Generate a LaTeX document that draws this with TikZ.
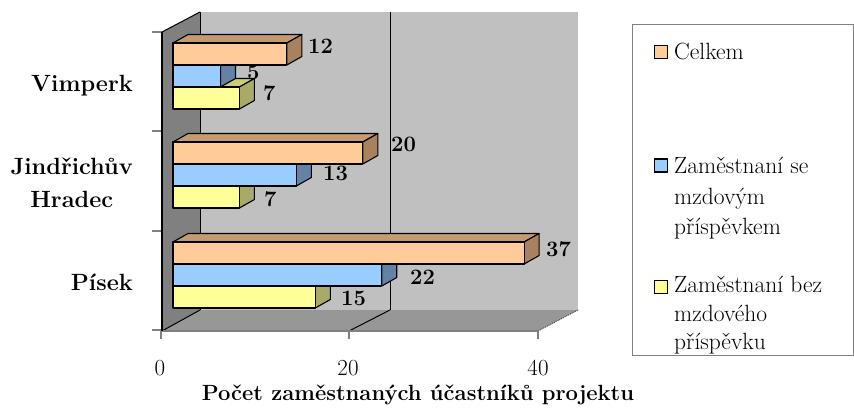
\documentclass[tikz,border=0pt]{standalone}
\usepackage{fontspec}
\definecolor{ofront}{HTML}{FFCC99}
\definecolor{otop}{HTML}{C49A70}
\definecolor{oside}{HTML}{A8825F}
\definecolor{bfront}{HTML}{99CCFF}
\definecolor{btop}{HTML}{7A9CC0}
\definecolor{bside}{HTML}{6482A5}
\definecolor{yfront}{HTML}{FFFF99}
\definecolor{ytop}{HTML}{CCCC77}
\definecolor{yside}{HTML}{A9A96A}
\definecolor{backwall}{HTML}{C0C0C0}
\definecolor{sidewall}{HTML}{808080}
\definecolor{floorc}{HTML}{979797}
\newcommand{\mybar}[3]{% #1 y top, #2 value, #3 colour prefix
  \pgfmathsetmacro\xe{173+9.49*#2}
  \draw[barline,fill=#3top] (173,#1) -- (\xe,#1) -- ++(15,-8.5) -- (188,{#1-8.5}) -- cycle;
  \draw[barline,fill=#3side] (\xe,#1) -- ++(15,-8.5) -- ++(0,22) -- (\xe,{#1+22}) -- cycle;
  \draw[barline,fill=#3front] (173,#1) rectangle (\xe,{#1+22});
}
\tikzset{
  barline/.style={draw=black,line width=1.1pt,line join=round},
  vallabel/.style={font=\fontsize{22}{26}\selectfont\bfseries,inner sep=0pt,anchor=west},
  catlabel/.style={font=\fontsize{23.5}{33}\selectfont\bfseries,inner sep=0pt,align=center},
  ticklabel/.style={font=\fontsize{23}{27}\selectfont,inner sep=0pt,anchor=base},
  legtext/.style={font=\fontsize{23.5}{30.5}\selectfont,inner sep=0pt,align=left},
  legsq/.style={draw=black,line width=1.1pt,minimum size=13pt,inner sep=0pt},
  axisline/.style={draw=sidewall,line width=1.2pt},
}
\begin{document}
\begin{tikzpicture}[x=1pt,y=-1pt]
\useasboundingbox (0,0) rectangle (854,409);
% walls and floor
\fill[backwall] (200,12) rectangle (578,310);
\fill[floorc] (162,331) -- (538,331) -- (578,310) -- (200,310) -- cycle;
\fill[sidewall] (162,32) -- (200,12) -- (200,310) -- (162,331) -- cycle;
\draw[black,line width=1pt] (200,12) -- (200,310);
\draw[black,line width=1pt] (390,12) -- (390,310);
\draw[black,line width=1pt] (349,331) -- (390,310);
\draw[black,line width=1pt] (162,331) -- (200,310);
\draw[black,line width=1pt] (162,32) -- (200,12);
\draw[black!70,densely dotted,line width=1pt] (538,331) -- (578,310);
% axes
\draw[axisline] (162,331) -- (538,331);
\foreach \xx in {161,349,538} \draw[axisline] (\xx,331) -- (\xx,339);
\foreach \yy in {32,131,231,330} \draw[axisline] (152,\yy) -- (162,\yy);
\draw[black,line width=1.8pt] (162,32) -- (162,331);
% bars: Písek
\mybar{286}{15}{y}
\mybar{264}{22}{b}
\mybar{242}{37}{o}
% Jindřichův Hradec
\mybar{186}{7}{y}
\mybar{164}{13}{b}
\mybar{142}{20}{o}
% Vimperk
\mybar{87}{7}{y}
\mybar{65}{5}{b}
\mybar{43}{12}{o}
% value labels
\node[vallabel] (v12) at (308,46) {12};
\node[vallabel] (v5) at (247,72) {5};
\node[vallabel] (v7a) at (263,93) {7};
\node[vallabel] (j20) at (391,144) {20};
\node[vallabel] (j13) at (323,173) {13};
\node[vallabel] (j7) at (264,199) {7};
\node[vallabel] (p37) at (546,249) {37};
\node[vallabel] (p22) at (410,277) {22};
\node[vallabel] (p15) at (341,298) {15};
% category labels
\node[catlabel,anchor=base east] (cv) at (133,92) {Vimperk};
\node[catlabel,anchor=north east] (cj) at (133,158) {Jindřichův\\Hradec};
\node[catlabel,anchor=base east] (cp) at (133,290) {Písek};
% axis tick labels
\node[ticklabel] (t0) at (160,375) {0};
\node[ticklabel] (t20) at (348,375) {20};
\node[ticklabel] (t40) at (538,375) {40};
\node[font=\fontsize{22}{26}\selectfont\bfseries,inner sep=0pt,anchor=base] (title) at (418,400) {Počet zaměstnaných účastníků projektu};
% legend
\draw[draw=sidewall,line width=1pt,fill=white] (632,25) rectangle (853,355);
\node[legsq,fill=ofront] (sq1) at (661,52) {};
\node[legsq,fill=bfront] (sq2) at (661,165.5) {};
\node[legsq,fill=yfront] (sq3) at (661,287) {};
\node[legtext,anchor=base west] (l1) at (674,60) {Celkem};
\node[legtext,anchor=north west] (l2) at (674,157) {Zaměstnaní se\\mzdovým\\příspěvkem};
\node[legtext,anchor=north west,font=\fontsize{23.5}{28.5}\selectfont] (l3) at (674,276) {Zaměstnaní bez\\mzdového\\příspěvku};
\end{tikzpicture}
\end{document}
